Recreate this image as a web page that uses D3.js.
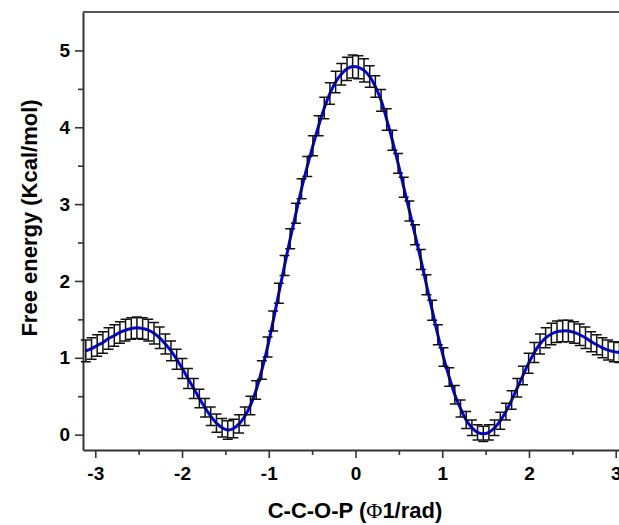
<!DOCTYPE html>
<html>
<head>
<meta charset="utf-8">
<script src="https://cdn.jsdelivr.net/npm/d3@7"></script>
<style>
  html, body { margin: 0; padding: 0; background: #fff; }
  svg { display: block; }
  .tick text { font-family: "Liberation Sans", Arial, sans-serif; font-weight: bold; font-size: 19px; fill: #000; }
</style>
</head>
<body>
<div id="chart"></div>
<script>
// dihedral angle (rad) of each bin
const angles = [
  -3.109, -3.043, -2.978, -2.912, -2.847, -2.781, -2.716, -2.651, -2.585, -2.520,
  -2.454, -2.389, -2.323, -2.258, -2.192, -2.127, -2.062, -1.996, -1.931, -1.865,
  -1.800, -1.734, -1.669, -1.603, -1.538, -1.473, -1.407, -1.342, -1.276, -1.211,
  -1.145, -1.080, -1.014, -0.949, -0.884, -0.818, -0.753, -0.687, -0.622, -0.556,
  -0.491, -0.425, -0.360, -0.295, -0.229, -0.164, -0.098, -0.033, 0.033, 0.098,
  0.164, 0.229, 0.295, 0.360, 0.425, 0.491, 0.556, 0.622, 0.687, 0.753,
  0.818, 0.884, 0.949, 1.014, 1.080, 1.145, 1.211, 1.276, 1.342, 1.407,
  1.473, 1.538, 1.603, 1.669, 1.734, 1.800, 1.865, 1.931, 1.996, 2.062,
  2.127, 2.192, 2.258, 2.323, 2.389, 2.454, 2.520, 2.585, 2.651, 2.716,
  2.781, 2.847, 2.912, 2.978, 3.043, 3.109
];

// free energy (kcal/mol)
const energy = [
  1.09, 1.12, 1.16, 1.20, 1.25, 1.29, 1.33, 1.36, 1.38, 1.39,
  1.38, 1.36, 1.32, 1.26, 1.18, 1.09, 0.98, 0.86, 0.73, 0.60,
  0.47, 0.35, 0.24, 0.15, 0.09, 0.06, 0.08, 0.14, 0.24, 0.38,
  0.58, 0.84, 1.14, 1.48, 1.84, 2.20, 2.55, 2.88, 3.20, 3.49,
  3.76, 4.02, 4.25, 4.44, 4.59, 4.69, 4.76, 4.79, 4.78, 4.74,
  4.66, 4.53, 4.35, 4.10, 3.83, 3.53, 3.22, 2.91, 2.60, 2.28,
  1.95, 1.62, 1.30, 1.01, 0.75, 0.52, 0.34, 0.19, 0.09, 0.03,
  0.01, 0.03, 0.09, 0.18, 0.30, 0.45, 0.61, 0.77, 0.93, 1.07,
  1.18, 1.26, 1.31, 1.34, 1.35, 1.35, 1.33, 1.30, 1.26, 1.21,
  1.17, 1.13, 1.10, 1.08, 1.07, 1.07
];

// error (+/-)
const errors = [
  0.14, 0.14, 0.14, 0.14, 0.14, 0.14, 0.14, 0.14, 0.14, 0.14,
  0.14, 0.14, 0.14, 0.14, 0.13, 0.13, 0.13, 0.13, 0.13, 0.13,
  0.12, 0.12, 0.12, 0.12, 0.12, 0.12, 0.12, 0.12, 0.12, 0.12,
  0.12, 0.12, 0.13, 0.13, 0.13, 0.13, 0.13, 0.13, 0.13, 0.13,
  0.13, 0.13, 0.14, 0.14, 0.14, 0.14, 0.15, 0.15, 0.15, 0.15,
  0.14, 0.14, 0.14, 0.14, 0.13, 0.13, 0.13, 0.13, 0.13, 0.13,
  0.13, 0.13, 0.13, 0.12, 0.12, 0.12, 0.11, 0.11, 0.10, 0.10,
  0.10, 0.10, 0.10, 0.11, 0.11, 0.12, 0.12, 0.12, 0.13, 0.13,
  0.13, 0.13, 0.14, 0.14, 0.14, 0.14, 0.14, 0.14, 0.14, 0.13,
  0.13, 0.13, 0.13, 0.13, 0.13, 0.13
];

const xMajor = [-3, -2, -1, 0, 1, 2, 3];
const xMinor = [-2.5, -1.5, -0.5, 0.5, 1.5, 2.5];
const yMajor = [0, 1, 2, 3, 4, 5];
const yMinor = [0.5, 1.5, 2.5, 3.5, 4.5];

const width = 619;
const height = 525;
const margin = { top: 12, right: -9, bottom: 75, left: 83 };
const innerW = width - margin.left - margin.right;
const innerH = height - margin.top - margin.bottom;

const data = angles.map((a, i) => ({ x: a, y: energy[i], e: errors[i] }));

const svg = d3.select("#chart")
  .append("svg")
  .attr("width", width)
  .attr("height", height);

const g = svg.append("g")
  .attr("transform", `translate(${margin.left},${margin.top})`);

const x = d3.scaleLinear().domain([-Math.PI, Math.PI]).range([0, innerW]);
const y = d3.scaleLinear().domain([-0.2, 5.5]).range([innerH, 0]);

// minor ticks
g.append("g")
  .attr("transform", `translate(0,${innerH})`)
  .call(d3.axisBottom(x).tickValues(xMinor).tickSize(5).tickFormat(""))
  .call((a) => a.select(".domain").remove());
g.append("g")
  .call(d3.axisLeft(y).tickValues(yMinor).tickSize(5).tickFormat(""))
  .call((a) => a.select(".domain").remove());

// major ticks
const xAxis = g.append("g")
  .attr("transform", `translate(0,${innerH})`)
  .call(d3.axisBottom(x).tickValues(xMajor).tickFormat(d3.format("d"))
    .tickSize(8).tickPadding(9).tickSizeOuter(0));
const yAxis = g.append("g")
  .call(d3.axisLeft(y).tickValues(yMajor).tickFormat(d3.format("d"))
    .tickSize(8).tickPadding(5).tickSizeOuter(0));

g.selectAll(".tick line").attr("stroke", "#333").attr("stroke-width", 1.6);
xAxis.select(".domain").attr("stroke", "#333").attr("stroke-width", 2);
yAxis.select(".domain").attr("stroke", "#333").attr("stroke-width", 2);
xAxis.selectAll(".tick text").text((d) => (d < 0 ? "-" + Math.abs(d) : d));

// top frame
g.append("line")
  .attr("x1", 0).attr("x2", innerW)
  .attr("y1", 0).attr("y2", 0)
  .attr("stroke", "#555").attr("stroke-width", 1.8);

// fitted curve
const line = d3.line()
  .x((d) => x(d.x))
  .y((d) => y(d.y))
  .curve(d3.curveCatmullRom);

g.append("path")
  .datum(data)
  .attr("d", line)
  .attr("fill", "none")
  .attr("stroke", "#0000f0")
  .attr("stroke-width", 3);

// error bars
const cap = 5;
const bars = g.append("g")
  .attr("stroke", "#111")
  .attr("stroke-width", 1.5)
  .attr("fill", "none");

bars.selectAll("path")
  .data(data)
  .join("path")
  .attr("d", (d) => {
    const cx = x(d.x);
    const y1 = y(d.y + d.e);
    const y0 = y(d.y - d.e);
    return `M${cx - cap},${y1}H${cx + cap}M${cx},${y1}V${y0}M${cx - cap},${y0}H${cx + cap}`;
  });

// axis titles
svg.append("text")
  .attr("transform", `translate(37,218) rotate(-90)`)
  .attr("text-anchor", "middle")
  .style("font-family", "'Liberation Sans', Arial, sans-serif")
  .style("font-weight", "bold")
  .style("font-size", "22px")
  .style("fill", "#000")
  .text("Free energy (Kcal/mol)");

const xt = svg.append("text")
  .attr("x", 355)
  .attr("y", 518)
  .attr("text-anchor", "middle")
  .style("font-family", "'Liberation Sans', Arial, sans-serif")
  .style("font-weight", "bold")
  .style("font-size", "22px")
  .style("fill", "#000");
xt.append("tspan").text("C-C-O-P (");
xt.append("tspan")
  .style("font-family", "'Liberation Serif', 'Times New Roman', serif")
  .style("font-weight", "normal")
  .text("Φ");
xt.append("tspan").text("1/rad)");
</script>
</body>
</html>
